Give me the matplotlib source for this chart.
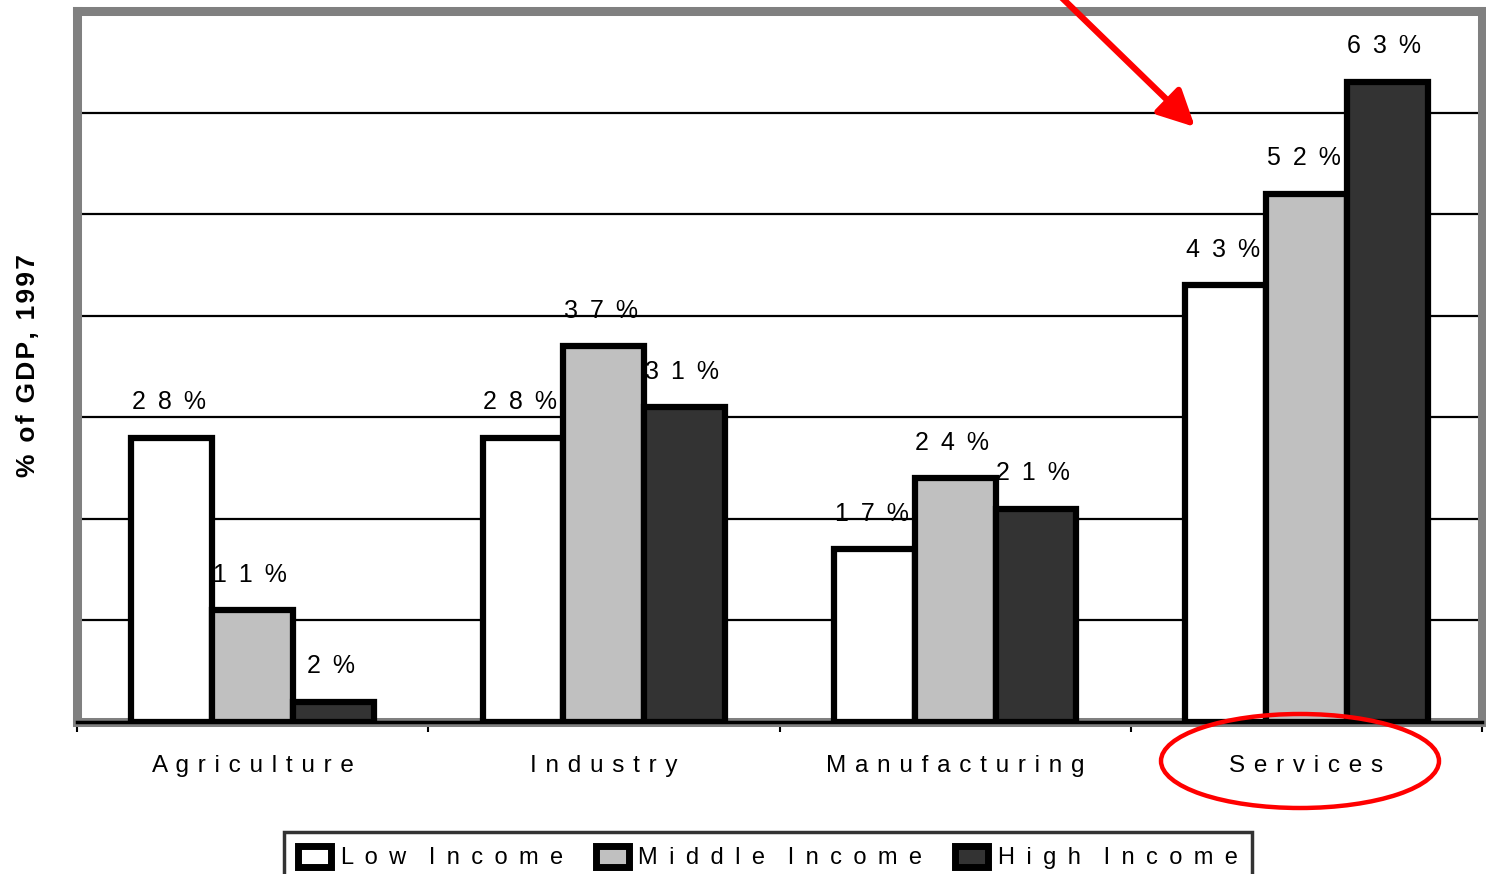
import numpy as np
import matplotlib
matplotlib.use("Agg")
import matplotlib.pyplot as plt
from matplotlib.patches import Rectangle, Ellipse

plt.rcParams['font.family'] = ['Liberation Sans', 'DejaVu Sans']

# data
sectors = ['Agriculture', 'Industry', 'Manufacturing', 'Services']
series = ['Low Income', 'Middle Income', 'High Income']
low_income = [28, 28, 17, 43]
middle_income = [11, 37, 24, 52]
high_income = [2, 31, 21, 63]
colors = ['#FFFFFF', '#C0C0C0', '#333333']

THIN = '\u2009'
HAIR = '\u200a'


def spaced(s, gap=' ', words=3):
    # old excel-style letter spacing
    return (gap * words).join(gap.join(w) for w in s.split())


W, H = 1486, 874
fig = plt.figure(figsize=(W / 100, H / 100), dpi=100)
ax = fig.add_axes([77 / W, 1 - 722 / H, (1482 - 77) / W, (722 - 11) / H])

x = np.arange(len(sectors))
width = 0.23
for i, (vals, col) in enumerate(zip([low_income, middle_income, high_income], colors)):
    bars = ax.bar(x + (i - 1) * width, vals, width, color=col, edgecolor='black',
                  linewidth=4.5, zorder=3)
    for b, v in zip(bars, vals):
        ax.annotate(spaced(f'{v}%', ' ' + THIN), (b.get_x() + b.get_width() / 2, v),
                    xytext=(-2, 17), textcoords='offset points',
                    ha='center', va='bottom', fontsize=18, zorder=4)

ax.set_xlim(-0.5, 3.5)
ax.set_ylim(0, 70)

# grid lines
ax.set_yticks(range(10, 70, 10))
ax.set_yticklabels([])
ax.tick_params(axis='y', length=0)
ax.yaxis.grid(True, color='black', linewidth=1.6)
ax.set_axisbelow(True)

# category boundaries as ticks, names as minor ticks
ax.set_xticks(np.arange(-0.5, 4, 1))
ax.set_xticklabels([])
ax.tick_params(axis='x', which='major', direction='out', length=7, width=1.5, color='black')
ax.set_xticks(x, minor=True)
ax.set_xticklabels([spaced(s, ' ' + HAIR) for s in sectors], minor=True, fontsize=17.5)
ax.tick_params(axis='x', which='minor', length=0, pad=24)

for sp in ax.spines.values():
    sp.set_color('#808080')
    sp.set_linewidth(6.5)
ax.plot([0, 1], [0, 0], transform=ax.transAxes, color='black', linewidth=2.5,
        clip_on=False, zorder=5)

fig.text(28 / W, 1 - 366 / H, HAIR.join('% of GDP, 1997'), rotation=90,
         ha='center', va='center', fontsize=19, fontweight='bold')

# legend
handles = [Rectangle((0, 0), 1, 1, facecolor=c, edgecolor='black', linewidth=5) for c in colors]
leg = fig.legend(handles, [spaced(s, ' ' + THIN, 2) for s in series], loc='upper left',
                 bbox_to_anchor=(284 / W, 1 - 832 / H), ncol=3, fontsize=17,
                 frameon=True, fancybox=False, edgecolor='black',
                 handlelength=1.4, handleheight=0.95, handletextpad=0.4,
                 columnspacing=1.4, borderpad=0.6, borderaxespad=0)
leg.get_frame().set_linewidth(2.5)

# red annotation marks
fig.add_artist(Ellipse((1300 / W, 1 - 761 / H), 278 / W, 94 / H, facecolor='none',
                       edgecolor='#FF0000', linewidth=3.2, transform=fig.transFigure))
ax.annotate('', xy=(1195 / W, 1 - 127 / H), xycoords='figure fraction',
            xytext=(1058 / W, 1 + 6 / H), textcoords='figure fraction',
            arrowprops=dict(arrowstyle='-|>,head_length=1.1,head_width=0.55',
                            mutation_scale=20, color='#FF0000', linewidth=4.5,
                            shrinkA=0, shrinkB=0),
            annotation_clip=False)

fig.savefig('out.png', dpi=100)
